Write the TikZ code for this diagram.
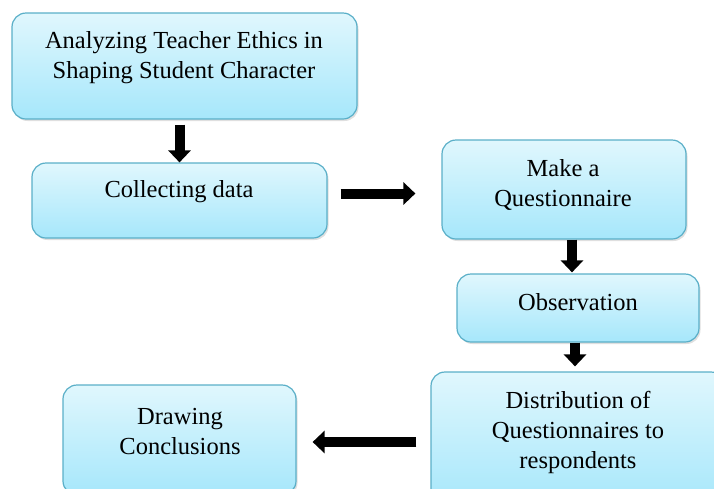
\documentclass[tikz,border=0pt]{standalone}
\usepackage{fontspec}
\setmainfont{Liberation Serif}
\usepackage{tikz}
\usetikzlibrary{arrows.meta,positioning,shadows}
\definecolor{boxline}{HTML}{5AAFC8}
\definecolor{boxtop}{HTML}{E0F7FD}
\definecolor{boxbottom}{HTML}{A6E7FB}

\begin{document}
\begin{tikzpicture}[
 x=1pt,y=-1pt,font=\fontsize{24.5}{30}\selectfont,
 box/.style={draw=boxline,line width=1.2pt,rounded corners=14pt,top color=boxtop,bottom color=boxbottom,
  drop shadow={shadow xshift=1.5pt,shadow yshift=-2pt,opacity=0.25}},
 txt/.style={align=center,inner sep=0pt},
 arr/.style={line width=10pt,-{Triangle[length=12pt,width=22pt]}}
]
\useasboundingbox (0,0) rectangle (714,488);
\clip (0,0) rectangle (714,488);
% boxes
\node[box,minimum width=345pt,minimum height=106pt] (ethics) at (184.5,66) {};
\node[box,minimum width=295pt,minimum height=75pt] (collect) at (179.5,200.5) {};
\node[box,minimum width=244pt,minimum height=99pt] (quest) at (564,189.5) {};
\node[box,minimum width=242pt,minimum height=68pt] (observe) at (578,308) {};
\node[box,minimum width=294pt,minimum height=134pt] (distrib) at (578,439) {};
\node[box,minimum width=233pt,minimum height=110pt] (concl) at (179.5,440) {};
% texts
\node[txt] (ethicsT) at (184,58) {Analyzing Teacher Ethics in\\Shaping Student Character};
\node[txt] (collectT) at (179,192) {Collecting data};
\node[txt] (questT) at (563,185) {Make a\\Questionnaire};
\node[txt] (observeT) at (578,302) {Observation};
\node[txt] (distribT) at (578,432) {Distribution of\\Questionnaires to\\respondents};
\node[txt] (conclT) at (180,431) {Drawing\\Conclusions};
% arrows
\draw[arr,shorten <=5pt] (ethics.south -| collect) -- (collect.north);
\draw[arr,shorten <=13pt,shorten >=26pt] ([yshift=7pt]collect.east) -- ([yshift=7pt]collect.east -| quest.west);
\draw[arr,shorten >=1pt] ([xshift=8pt]quest.south) -- ([xshift=8pt]quest.south |- observe.north);
\draw[arr,shorten >=5pt] ([xshift=-3pt]observe.south) -- ([xshift=-3pt]observe.south |- distrib.north);
\draw[arr,shorten <=14pt,shorten >=16pt] ([yshift=-3pt]distrib.west) -- ([yshift=-3pt]distrib.west -| concl.east);
\end{tikzpicture}
\end{document}
